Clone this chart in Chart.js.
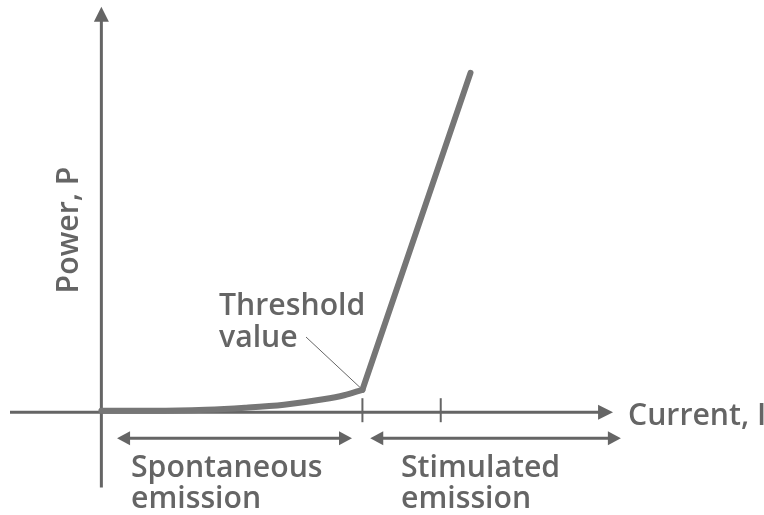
<!DOCTYPE html>
<html><head><meta charset="utf-8">
<script src="https://cdn.jsdelivr.net/npm/chart.js@4.4.1/dist/chart.umd.min.js"></script>
<style>html,body{margin:0;padding:0;background:#fff}#wrap{width:764px;height:515px}</style>
</head><body><div id="wrap"><canvas id="c" width="764" height="515"></canvas></div>
<script>
// Data (current in units of threshold current, power normalised)
const currentSpont = [0, 0.2, 0.4, 0.55, 0.7, 0.85, 0.93, 1.0];
const powerSpont   = [0.004, 0.004, 0.007, 0.013, 0.022, 0.038, 0.05, 0.066];
const currentStim  = [1.0, 1.414];
const powerStim    = [0.066, 1.0];
const tickCurrents = [1.0, 1.3];
const xAxisLabel = 'Current, I';
const yAxisLabel = 'Power, P';
const thresholdLabel = ['Threshold', 'value'];
const regionNames = [['Spontaneous', 'emission'], ['Stimulated', 'emission']];
const regionRanges = [[0.06, 0.96], [1.03, 1.99]];

const GREY = '#656565';
const CURVE = '#767676';
const FONT = '"Open Sans", "DejaVu Sans", sans-serif';
const WEIGHT = '600';

function arrowHead(ctx, x, y, dir, len, half) {
  ctx.beginPath();
  if (dir === 'right') { ctx.moveTo(x, y); ctx.lineTo(x - len, y - half); ctx.lineTo(x - len, y + half); }
  if (dir === 'left')  { ctx.moveTo(x, y); ctx.lineTo(x + len, y - half); ctx.lineTo(x + len, y + half); }
  if (dir === 'up')    { ctx.moveTo(x, y); ctx.lineTo(x - half, y + len); ctx.lineTo(x + half, y + len); }
  ctx.closePath(); ctx.fill();
}
function txt(ctx, s, x, y, size, sx) {
  ctx.save();
  ctx.translate(x, y); ctx.scale(sx, 1);
  ctx.font = WEIGHT + ' ' + size + 'px ' + FONT;
  ctx.fillText(s, 0, 0);
  ctx.restore();
}

const decor = {
  id: 'decor',
  beforeDatasetsDraw(chart) {
    const ctx = chart.ctx, xs = chart.scales.x, ys = chart.scales.y;
    const x0 = xs.getPixelForValue(0), y0 = ys.getPixelForValue(0);
    ctx.save();
    ctx.strokeStyle = GREY; ctx.fillStyle = GREY; ctx.lineWidth = 3;
    // x axis
    const xl = xs.getPixelForValue(-0.35), xr = xs.getPixelForValue(1.96);
    ctx.beginPath(); ctx.moveTo(xl, y0); ctx.lineTo(xr - 10, y0); ctx.stroke();
    arrowHead(ctx, xr, y0, 'right', 15, 7.5);
    // y axis
    const yb = ys.getPixelForValue(-0.222), yt = ys.getPixelForValue(1.195);
    ctx.beginPath(); ctx.moveTo(x0, yb); ctx.lineTo(x0, yt + 10); ctx.stroke();
    arrowHead(ctx, x0, yt, 'up', 15, 7.5);
    // ticks
    ctx.lineWidth = 2;
    tickCurrents.forEach(v => {
      const px = xs.getPixelForValue(v);
      ctx.beginPath(); ctx.moveTo(px, y0 - 14); ctx.lineTo(px, y0 + 10); ctx.stroke();
    });
    // region double arrows
    ctx.lineWidth = 3;
    const ya = y0 + 26;
    regionRanges.forEach(r => {
      const a = xs.getPixelForValue(r[0]), b = xs.getPixelForValue(r[1]);
      ctx.beginPath(); ctx.moveTo(a + 8, ya); ctx.lineTo(b - 8, ya); ctx.stroke();
      arrowHead(ctx, a, ya, 'left', 13, 7);
      arrowHead(ctx, b, ya, 'right', 13, 7);
    });
    // leader line for threshold
    const tx = xs.getPixelForValue(currentStim[0]), ty = ys.getPixelForValue(powerStim[0]);
    ctx.lineWidth = 1;
    ctx.beginPath(); ctx.moveTo(306, 337); ctx.lineTo(tx - 2, ty - 2); ctx.stroke();
    // texts
    ctx.textBaseline = 'alphabetic'; ctx.textAlign = 'left';
    const S = 0.975, FS = 31;
    txt(ctx, xAxisLabel, 628, 425, FS, S);
    txt(ctx, thresholdLabel[0], 219, 315, FS, S);
    txt(ctx, thresholdLabel[1], 219, 347, FS, S);
    txt(ctx, regionNames[0][0], 131, 477, FS, S);
    txt(ctx, regionNames[0][1], 131, 508, FS, S);
    txt(ctx, regionNames[1][0], 401, 477, FS, S);
    txt(ctx, regionNames[1][1], 401, 508, FS, S);
    ctx.save();
    ctx.translate(78, 230); ctx.rotate(-Math.PI / 2);
    ctx.textAlign = 'center';
    ctx.scale(S, 1);
    ctx.font = WEIGHT + ' ' + FS + 'px ' + FONT;
    ctx.fillText(yAxisLabel, 0, 0);
    ctx.restore();
    ctx.restore();
  }
};

new Chart(document.getElementById('c'), {
  type: 'line',
  data: {
    datasets: [
      { data: currentSpont.map((x, i) => ({ x, y: powerSpont[i] })), borderColor: CURVE, borderWidth: 6,
        pointRadius: 0, tension: 0.4, cubicInterpolationMode: 'monotone', borderCapStyle: 'round', borderJoinStyle: 'round' },
      { data: currentStim.map((x, i) => ({ x, y: powerStim[i] })), borderColor: CURVE, borderWidth: 6,
        pointRadius: 0, tension: 0, borderCapStyle: 'round', borderJoinStyle: 'round' }
    ]
  },
  options: {
    responsive: false, animation: false, devicePixelRatio: 1,
    layout: { padding: { left: 10, right: 10, top: 5, bottom: 1 } },
    plugins: { legend: { display: false }, tooltip: { enabled: false } },
    scales: {
      x: { type: 'linear', display: false, min: -0.35, max: 2.5 },
      y: { type: 'linear', display: false, min: -0.3, max: 1.2 }
    }
  },
  plugins: [decor]
});
</script></body></html>
